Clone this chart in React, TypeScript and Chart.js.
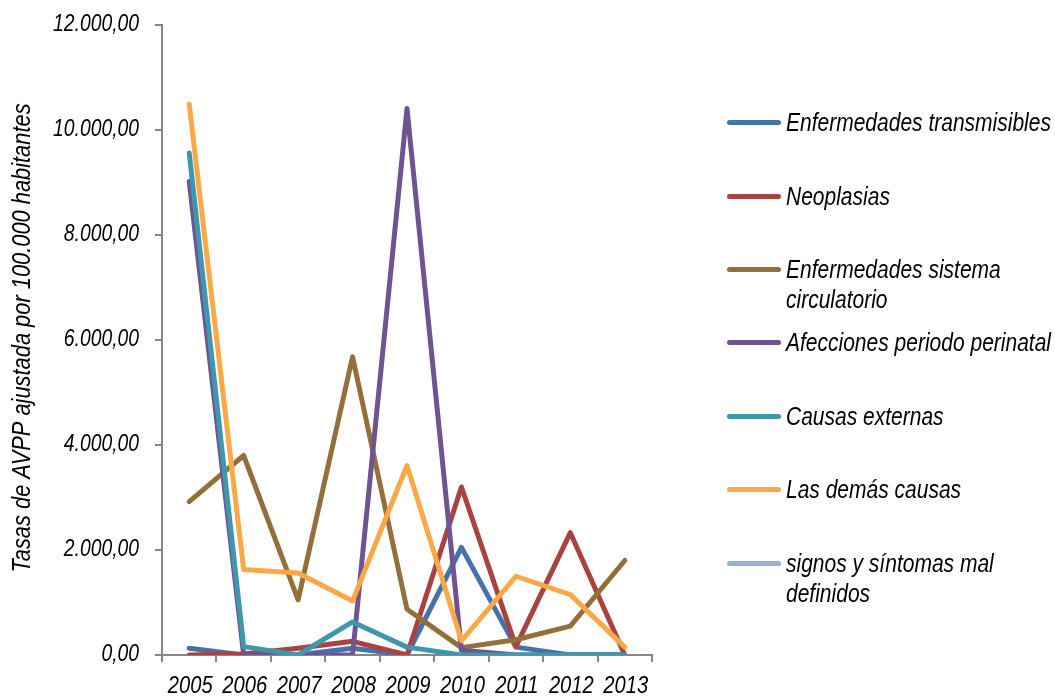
import React, { useEffect, useRef } from "react";
import { Chart, registerables } from "chart.js";

Chart.register(...registerables);

const years = ["2005", "2006", "2007", "2008", "2009", "2010", "2011", "2012", "2013"];

const seriesNames = [
  "Enfermedades transmisibles",
  "Neoplasias",
  "Enfermedades sistema circulatorio",
  "Afecciones periodo perinatal",
  "Causas externas",
  "Las demás causas",
  "signos y síntomas mal definidos",
];

// Legend text split into the lines shown next to each swatch
const legendLines = [
  ["Enfermedades transmisibles"],
  ["Neoplasias"],
  ["Enfermedades sistema", "circulatorio"],
  ["Afecciones periodo perinatal"],
  ["Causas externas"],
  ["Las demás causas"],
  ["signos y síntomas mal", "definidos"],
];

const transmisibles = [130, 0, 0, 130, 0, 2050, 150, 0, 0];
const neoplasias = [0, 20, 130, 260, 0, 3200, 160, 2330, 0];
const circulatorio = [2920, 3800, 1050, 5680, 870, 140, 290, 550, 1800];
const perinatal = [9020, 0, 0, 0, 10410, 90, 0, 0, 0];
const externas = [9560, 160, 0, 630, 150, 0, 0, 0, 0];
const demasCausas = [10490, 1630, 1560, 1030, 3610, 270, 1500, 1150, 150];
const signosSintomas: (number | null)[] = [null, null, null, null, null, null, null, null, null];

const seriesValues = [transmisibles, neoplasias, circulatorio, perinatal, externas, demasCausas, signosSintomas];

const seriesColors = ["#4672AA", "#A9433F", "#93703A", "#6E5490", "#3E97AD", "#FCA846", "#97AFD6"];

const yTicks = [0, 2000, 4000, 6000, 8000, 10000, 12000];
const yTitle = "Tasas de AVPP ajustada por 100.000 habitantes";

const baseFont = "'Liberation Sans', Arial, sans-serif";
const narrowScale = 0.84;
const axisColor = "#878787";

function formatEs(v: number): string {
  const fixed = v.toFixed(2);
  const [intPart, dec] = fixed.split(".");
  const withDots = intPart.replace(/\B(?=(\d{3})+(?!\d))/g, ".");
  return withDots + "," + dec;
}

// Draws text horizontally condensed, like a narrow typeface
function drawNarrow(
  ctx: CanvasRenderingContext2D,
  text: string,
  x: number,
  y: number,
  size: number,
  align: CanvasTextAlign,
  rotate = 0
) {
  ctx.save();
  ctx.translate(x, y);
  if (rotate) ctx.rotate(rotate);
  ctx.scale(narrowScale, 1);
  ctx.font = `italic ${size}px ${baseFont}`;
  ctx.fillStyle = "#000";
  ctx.textAlign = align;
  ctx.textBaseline = "middle";
  ctx.fillText(text, 0, 0);
  ctx.restore();
}

const axisTextPlugin = {
  id: "axisText",
  afterDraw(chart: any) {
    const { ctx, chartArea } = chart;
    const xScale = chart.scales.x;
    const yScale = chart.scales.y;
    years.forEach((label, i) => {
      drawNarrow(ctx, label, xScale.getPixelForTick(i) + 1, chartArea.bottom + 31, 24, "center");
    });
    yTicks.forEach((v) => {
      drawNarrow(ctx, formatEs(v), chartArea.left - 23, yScale.getPixelForValue(v), 23, "right");
    });
    drawNarrow(ctx, yTitle, 23, (chartArea.top + chartArea.bottom) / 2 - 2, 26, "center", -Math.PI / 2);
  },
};

export default function App() {
  const canvasRef = useRef<HTMLCanvasElement | null>(null);

  useEffect(() => {
    if (!canvasRef.current) return;
    const n = seriesNames.length;
    const chart = new Chart(canvasRef.current, {
      type: "line",
      data: {
        labels: years,
        datasets: seriesNames.map((name, i) => ({
          label: name,
          data: seriesValues[i],
          borderColor: seriesColors[i],
          backgroundColor: seriesColors[i],
          borderWidth: 5,
          pointRadius: 0,
          pointHoverRadius: 0,
          tension: 0,
          fill: false,
          borderCapStyle: "round" as const,
          borderJoinStyle: "round" as const,
          order: n - i,
        })),
      },
      plugins: [axisTextPlugin],
      options: {
        responsive: false,
        animation: false,
        events: [],
        layout: { padding: { left: 0, right: 403, top: 25, bottom: 0 } },
        plugins: {
          legend: { display: false },
          tooltip: { enabled: false },
          title: { display: false },
        },
        scales: {
          x: {
            type: "category",
            offset: true,
            grid: {
              display: true,
              drawOnChartArea: false,
              drawTicks: true,
              tickLength: 7,
              offset: true,
              color: axisColor,
              lineWidth: 2,
            },
            border: { display: true, color: axisColor, width: 2 },
            ticks: { display: false, autoSkip: false },
            afterFit: (scale: any) => {
              scale.height = 41;
            },
          },
          y: {
            min: 0,
            max: 12000,
            afterBuildTicks: (scale: any) => {
              scale.ticks = yTicks.map((v) => ({ value: v }));
            },
            grid: {
              display: true,
              drawOnChartArea: false,
              drawTicks: true,
              tickLength: 7,
              color: axisColor,
              lineWidth: 2,
            },
            border: { display: true, color: axisColor, width: 2 },
            ticks: { display: false },
            afterFit: (scale: any) => {
              scale.width = 162;
            },
          },
        },
      },
    });
    return () => chart.destroy();
  }, []);

  const rowCenters = [122, 196, 269, 342, 416, 489, 563];

  return (
    <div style={{ position: "fixed", left: 0, top: 0, width: 1055, height: 696, background: "#fff" }}>
      <canvas ref={canvasRef} width={1055} height={696} style={{ display: "block" }} />
      {legendLines.map((lines, i) => (
        <div
          key={seriesNames[i]}
          style={{ position: "absolute", left: 727, top: rowCenters[i] - 15, display: "flex", alignItems: "flex-start" }}
        >
          <div
            style={{
              width: 54,
              height: 5,
              marginTop: 13,
              borderRadius: 3,
              background: seriesColors[i],
              flex: "none",
            }}
          />
          <div
            style={{
              marginLeft: 5,
              fontFamily: baseFont,
              fontStyle: "italic",
              fontSize: 25,
              lineHeight: "30px",
              color: "#000",
              whiteSpace: "nowrap",
              transform: `scaleX(${narrowScale})`,
              transformOrigin: "left center",
            }}
          >
            {lines.map((t) => (
              <div key={t}>{t}</div>
            ))}
          </div>
        </div>
      ))}
    </div>
  );
}
